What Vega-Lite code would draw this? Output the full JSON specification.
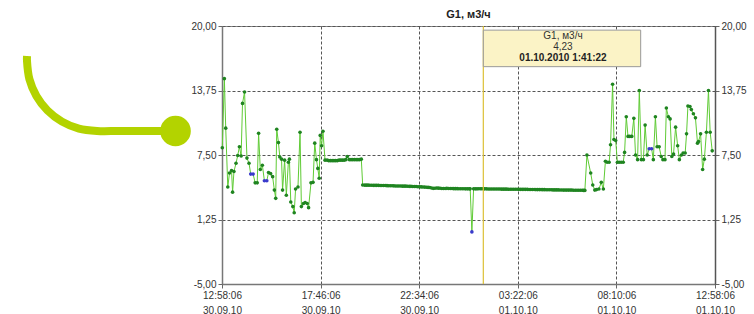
{
  "$schema": "https://vega.github.io/schema/vega-lite/v6.json",
  "background": "white",
  "padding": {"left": 0, "top": 8, "right": 0, "bottom": 0},
  "config": {
    "font": "Liberation Sans",
    "view": {"stroke": "#888"},
    "concat": {"spacing": -2},
    "locale": {"number": {"decimal": ",", "thousands": " ", "grouping": [3], "currency": ["", ""], "minus": "-"}},
    "axis": {"labelFont": "Liberation Sans", "labelFontSize": 10, "labelColor": "#333", "title": null}
  },
  "datasets": {
    "g1": [
      {"t": "2010-09-30T12:59", "v": 8.2},
      {"t": "2010-09-30T13:05", "v": 14.9},
      {"t": "2010-09-30T13:09", "v": 10.1},
      {"t": "2010-09-30T13:15", "v": 4.4},
      {"t": "2010-09-30T13:20", "v": 5.75},
      {"t": "2010-09-30T13:26", "v": 6.0},
      {"t": "2010-09-30T13:29", "v": 3.9},
      {"t": "2010-09-30T13:33", "v": 5.9},
      {"t": "2010-09-30T13:39", "v": 6.7},
      {"t": "2010-09-30T13:44", "v": 7.45},
      {"t": "2010-09-30T13:49", "v": 8.3},
      {"t": "2010-09-30T13:54", "v": 7.4},
      {"t": "2010-09-30T13:58", "v": 12.5},
      {"t": "2010-09-30T14:04", "v": 13.6},
      {"t": "2010-09-30T14:11", "v": 7.2},
      {"t": "2010-09-30T14:17", "v": 6.7},
      {"t": "2010-09-30T14:22", "v": 5.65, "b": 1},
      {"t": "2010-09-30T14:29", "v": 5.65, "b": 1},
      {"t": "2010-09-30T14:35", "v": 4.8},
      {"t": "2010-09-30T14:41", "v": 4.8},
      {"t": "2010-09-30T14:45", "v": 9.6},
      {"t": "2010-09-30T14:50", "v": 6.1},
      {"t": "2010-09-30T14:56", "v": 6.5},
      {"t": "2010-09-30T15:02", "v": 5.0, "b": 1},
      {"t": "2010-09-30T15:09", "v": 5.0, "b": 1},
      {"t": "2010-09-30T15:14", "v": 5.8},
      {"t": "2010-09-30T15:20", "v": 5.7},
      {"t": "2010-09-30T15:26", "v": 5.4},
      {"t": "2010-09-30T15:31", "v": 4.1},
      {"t": "2010-09-30T15:35", "v": 3.3},
      {"t": "2010-09-30T15:38", "v": 10.0},
      {"t": "2010-09-30T15:43", "v": 8.7},
      {"t": "2010-09-30T15:47", "v": 7.3},
      {"t": "2010-09-30T15:52", "v": 7.1},
      {"t": "2010-09-30T15:55", "v": 4.1},
      {"t": "2010-09-30T16:01", "v": 7.0},
      {"t": "2010-09-30T16:06", "v": 3.6},
      {"t": "2010-09-30T16:12", "v": 6.8},
      {"t": "2010-09-30T16:15", "v": 7.1},
      {"t": "2010-09-30T16:19", "v": 2.95},
      {"t": "2010-09-30T16:25", "v": 2.5},
      {"t": "2010-09-30T16:29", "v": 1.9},
      {"t": "2010-09-30T16:33", "v": 4.2},
      {"t": "2010-09-30T16:40", "v": 4.4},
      {"t": "2010-09-30T16:46", "v": 9.7},
      {"t": "2010-09-30T16:50", "v": 2.5},
      {"t": "2010-09-30T16:56", "v": 2.8},
      {"t": "2010-09-30T17:01", "v": 2.9},
      {"t": "2010-09-30T17:07", "v": 2.8},
      {"t": "2010-09-30T17:11", "v": 2.4},
      {"t": "2010-09-30T17:18", "v": 4.8},
      {"t": "2010-09-30T17:24", "v": 4.85},
      {"t": "2010-09-30T17:29", "v": 8.65},
      {"t": "2010-09-30T17:34", "v": 7.05},
      {"t": "2010-09-30T17:38", "v": 6.2},
      {"t": "2010-09-30T17:42", "v": 5.25},
      {"t": "2010-09-30T17:45", "v": 9.4},
      {"t": "2010-09-30T17:49", "v": 8.4},
      {"t": "2010-09-30T17:53", "v": 9.8},
      {"t": "2010-09-30T17:59", "v": 7.0},
      {"t": "2010-09-30T18:05", "v": 7.0},
      {"t": "2010-09-30T18:10", "v": 6.95},
      {"t": "2010-09-30T18:15", "v": 6.95},
      {"t": "2010-09-30T18:20", "v": 6.95},
      {"t": "2010-09-30T18:25", "v": 6.95},
      {"t": "2010-09-30T18:30", "v": 6.95},
      {"t": "2010-09-30T18:35", "v": 6.95},
      {"t": "2010-09-30T18:40", "v": 7.0},
      {"t": "2010-09-30T18:45", "v": 7.0},
      {"t": "2010-09-30T18:50", "v": 7.0},
      {"t": "2010-09-30T18:55", "v": 7.0},
      {"t": "2010-09-30T19:00", "v": 7.05},
      {"t": "2010-09-30T19:04", "v": 7.35},
      {"t": "2010-09-30T19:10", "v": 7.05},
      {"t": "2010-09-30T19:15", "v": 7.05},
      {"t": "2010-09-30T19:20", "v": 7.05},
      {"t": "2010-09-30T19:25", "v": 7.05},
      {"t": "2010-09-30T19:30", "v": 7.05},
      {"t": "2010-09-30T19:35", "v": 7.05},
      {"t": "2010-09-30T19:40", "v": 7.05},
      {"t": "2010-09-30T19:45", "v": 7.1},
      {"t": "2010-09-30T19:49", "v": 4.6},
      {"t": "2010-09-30T19:55", "v": 4.58},
      {"t": "2010-09-30T20:00", "v": 4.58},
      {"t": "2010-09-30T20:05", "v": 4.58},
      {"t": "2010-09-30T20:10", "v": 4.57},
      {"t": "2010-09-30T20:15", "v": 4.57},
      {"t": "2010-09-30T20:20", "v": 4.56},
      {"t": "2010-09-30T20:25", "v": 4.56},
      {"t": "2010-09-30T20:30", "v": 4.56},
      {"t": "2010-09-30T20:35", "v": 4.56},
      {"t": "2010-09-30T20:40", "v": 4.55},
      {"t": "2010-09-30T20:45", "v": 4.55},
      {"t": "2010-09-30T20:50", "v": 4.55},
      {"t": "2010-09-30T20:55", "v": 4.55},
      {"t": "2010-09-30T21:00", "v": 4.53},
      {"t": "2010-09-30T21:05", "v": 4.52},
      {"t": "2010-09-30T21:10", "v": 4.52},
      {"t": "2010-09-30T21:15", "v": 4.52},
      {"t": "2010-09-30T21:20", "v": 4.51},
      {"t": "2010-09-30T21:25", "v": 4.5},
      {"t": "2010-09-30T21:30", "v": 4.5},
      {"t": "2010-09-30T21:35", "v": 4.5},
      {"t": "2010-09-30T21:40", "v": 4.49},
      {"t": "2010-09-30T21:45", "v": 4.48},
      {"t": "2010-09-30T21:50", "v": 4.48},
      {"t": "2010-09-30T21:55", "v": 4.48},
      {"t": "2010-09-30T22:00", "v": 4.47},
      {"t": "2010-09-30T22:05", "v": 4.46},
      {"t": "2010-09-30T22:10", "v": 4.46},
      {"t": "2010-09-30T22:15", "v": 4.45},
      {"t": "2010-09-30T22:20", "v": 4.45},
      {"t": "2010-09-30T22:25", "v": 4.45},
      {"t": "2010-09-30T22:30", "v": 4.43},
      {"t": "2010-09-30T22:35", "v": 4.42},
      {"t": "2010-09-30T22:40", "v": 4.41},
      {"t": "2010-09-30T22:45", "v": 4.4},
      {"t": "2010-09-30T22:50", "v": 4.39},
      {"t": "2010-09-30T22:55", "v": 4.38},
      {"t": "2010-09-30T23:00", "v": 4.36},
      {"t": "2010-09-30T23:05", "v": 4.35},
      {"t": "2010-09-30T23:10", "v": 4.3},
      {"t": "2010-09-30T23:15", "v": 4.27},
      {"t": "2010-09-30T23:20", "v": 4.28},
      {"t": "2010-09-30T23:25", "v": 4.3},
      {"t": "2010-09-30T23:30", "v": 4.29},
      {"t": "2010-09-30T23:35", "v": 4.28},
      {"t": "2010-09-30T23:40", "v": 4.26},
      {"t": "2010-09-30T23:45", "v": 4.25},
      {"t": "2010-09-30T23:50", "v": 4.26},
      {"t": "2010-09-30T23:55", "v": 4.27},
      {"t": "2010-10-01T00:00", "v": 4.26},
      {"t": "2010-10-01T00:05", "v": 4.25},
      {"t": "2010-10-01T00:10", "v": 4.25},
      {"t": "2010-10-01T00:15", "v": 4.24},
      {"t": "2010-10-01T00:20", "v": 4.24},
      {"t": "2010-10-01T00:25", "v": 4.24},
      {"t": "2010-10-01T00:30", "v": 4.23},
      {"t": "2010-10-01T00:35", "v": 4.23},
      {"t": "2010-10-01T00:40", "v": 4.23},
      {"t": "2010-10-01T00:45", "v": 4.23},
      {"t": "2010-10-01T00:50", "v": 4.22},
      {"t": "2010-10-01T00:55", "v": 4.22},
      {"t": "2010-10-01T01:00", "v": 4.22},
      {"t": "2010-10-01T01:03", "v": 4.22},
      {"t": "2010-10-01T01:08", "v": 0.05, "b": 1},
      {"t": "2010-10-01T01:13", "v": 4.22},
      {"t": "2010-10-01T01:18", "v": 4.22},
      {"t": "2010-10-01T01:23", "v": 4.22},
      {"t": "2010-10-01T01:28", "v": 4.23},
      {"t": "2010-10-01T01:33", "v": 4.23},
      {"t": "2010-10-01T01:37", "v": 4.23},
      {"t": "2010-10-01T01:41:22", "v": 4.23},
      {"t": "2010-10-01T01:45", "v": 4.22},
      {"t": "2010-10-01T01:50", "v": 4.22},
      {"t": "2010-10-01T01:55", "v": 4.21},
      {"t": "2010-10-01T02:00", "v": 4.21},
      {"t": "2010-10-01T02:05", "v": 4.2},
      {"t": "2010-10-01T02:10", "v": 4.2},
      {"t": "2010-10-01T02:15", "v": 4.2},
      {"t": "2010-10-01T02:20", "v": 4.2},
      {"t": "2010-10-01T02:25", "v": 4.2},
      {"t": "2010-10-01T02:30", "v": 4.2},
      {"t": "2010-10-01T02:35", "v": 4.19},
      {"t": "2010-10-01T02:40", "v": 4.19},
      {"t": "2010-10-01T02:45", "v": 4.19},
      {"t": "2010-10-01T02:50", "v": 4.19},
      {"t": "2010-10-01T02:55", "v": 4.18},
      {"t": "2010-10-01T03:00", "v": 4.18},
      {"t": "2010-10-01T03:05", "v": 4.18},
      {"t": "2010-10-01T03:10", "v": 4.18},
      {"t": "2010-10-01T03:15", "v": 4.18},
      {"t": "2010-10-01T03:20", "v": 4.18},
      {"t": "2010-10-01T03:25", "v": 4.17},
      {"t": "2010-10-01T03:30", "v": 4.17},
      {"t": "2010-10-01T03:35", "v": 4.17},
      {"t": "2010-10-01T03:40", "v": 4.17},
      {"t": "2010-10-01T03:45", "v": 4.17},
      {"t": "2010-10-01T03:50", "v": 4.17},
      {"t": "2010-10-01T03:55", "v": 4.16},
      {"t": "2010-10-01T04:00", "v": 4.16},
      {"t": "2010-10-01T04:05", "v": 4.16},
      {"t": "2010-10-01T04:10", "v": 4.16},
      {"t": "2010-10-01T04:15", "v": 4.15},
      {"t": "2010-10-01T04:20", "v": 4.15},
      {"t": "2010-10-01T04:25", "v": 4.15},
      {"t": "2010-10-01T04:30", "v": 4.15},
      {"t": "2010-10-01T04:35", "v": 4.14},
      {"t": "2010-10-01T04:40", "v": 4.14},
      {"t": "2010-10-01T04:45", "v": 4.13},
      {"t": "2010-10-01T04:50", "v": 4.13},
      {"t": "2010-10-01T04:55", "v": 4.13},
      {"t": "2010-10-01T05:00", "v": 4.13},
      {"t": "2010-10-01T05:05", "v": 4.12},
      {"t": "2010-10-01T05:10", "v": 4.12},
      {"t": "2010-10-01T05:15", "v": 4.12},
      {"t": "2010-10-01T05:20", "v": 4.12},
      {"t": "2010-10-01T05:25", "v": 4.11},
      {"t": "2010-10-01T05:30", "v": 4.11},
      {"t": "2010-10-01T05:35", "v": 4.1},
      {"t": "2010-10-01T05:40", "v": 4.1},
      {"t": "2010-10-01T05:45", "v": 4.1},
      {"t": "2010-10-01T05:50", "v": 4.1},
      {"t": "2010-10-01T05:55", "v": 4.1},
      {"t": "2010-10-01T06:00", "v": 4.1},
      {"t": "2010-10-01T06:05", "v": 4.09},
      {"t": "2010-10-01T06:10", "v": 4.09},
      {"t": "2010-10-01T06:15", "v": 4.08},
      {"t": "2010-10-01T06:20", "v": 4.08},
      {"t": "2010-10-01T06:25", "v": 4.08},
      {"t": "2010-10-01T06:30", "v": 4.08},
      {"t": "2010-10-01T06:34", "v": 4.07},
      {"t": "2010-10-01T06:38", "v": 4.07},
      {"t": "2010-10-01T06:44", "v": 7.5},
      {"t": "2010-10-01T06:55", "v": 5.75},
      {"t": "2010-10-01T07:01", "v": 4.6},
      {"t": "2010-10-01T07:07", "v": 4.1},
      {"t": "2010-10-01T07:12", "v": 4.15},
      {"t": "2010-10-01T07:19", "v": 4.2},
      {"t": "2010-10-01T07:26", "v": 4.85},
      {"t": "2010-10-01T07:32", "v": 4.2},
      {"t": "2010-10-01T07:38", "v": 6.9},
      {"t": "2010-10-01T07:43", "v": 6.8},
      {"t": "2010-10-01T07:49", "v": 6.8},
      {"t": "2010-10-01T07:53", "v": 8.5},
      {"t": "2010-10-01T07:59", "v": 14.35},
      {"t": "2010-10-01T08:03", "v": 9.0},
      {"t": "2010-10-01T08:08", "v": 8.9},
      {"t": "2010-10-01T08:13", "v": 6.8},
      {"t": "2010-10-01T08:18", "v": 6.8},
      {"t": "2010-10-01T08:24", "v": 6.8},
      {"t": "2010-10-01T08:30", "v": 6.8},
      {"t": "2010-10-01T08:34", "v": 7.75},
      {"t": "2010-10-01T08:39", "v": 11.2},
      {"t": "2010-10-01T08:44", "v": 9.3},
      {"t": "2010-10-01T08:49", "v": 9.3},
      {"t": "2010-10-01T08:55", "v": 9.3},
      {"t": "2010-10-01T09:01", "v": 11.05},
      {"t": "2010-10-01T09:06", "v": 7.5},
      {"t": "2010-10-01T09:12", "v": 7.05},
      {"t": "2010-10-01T09:17", "v": 13.75},
      {"t": "2010-10-01T09:23", "v": 7.05},
      {"t": "2010-10-01T09:29", "v": 7.05},
      {"t": "2010-10-01T09:34", "v": 10.4},
      {"t": "2010-10-01T09:40", "v": 7.5},
      {"t": "2010-10-01T09:46", "v": 8.1, "b": 1},
      {"t": "2010-10-01T09:53", "v": 8.1, "b": 1},
      {"t": "2010-10-01T09:58", "v": 7.05},
      {"t": "2010-10-01T10:04", "v": 11.2},
      {"t": "2010-10-01T10:09", "v": 8.3},
      {"t": "2010-10-01T10:15", "v": 8.3},
      {"t": "2010-10-01T10:21", "v": 7.35},
      {"t": "2010-10-01T10:26", "v": 7.05},
      {"t": "2010-10-01T10:32", "v": 7.05},
      {"t": "2010-10-01T10:36", "v": 12.05},
      {"t": "2010-10-01T10:42", "v": 11.2},
      {"t": "2010-10-01T10:47", "v": 11.0},
      {"t": "2010-10-01T10:52", "v": 7.35},
      {"t": "2010-10-01T10:57", "v": 7.6},
      {"t": "2010-10-01T11:03", "v": 10.2},
      {"t": "2010-10-01T11:09", "v": 8.4},
      {"t": "2010-10-01T11:14", "v": 7.05},
      {"t": "2010-10-01T11:20", "v": 7.5},
      {"t": "2010-10-01T11:25", "v": 7.7},
      {"t": "2010-10-01T11:31", "v": 7.7},
      {"t": "2010-10-01T11:35", "v": 9.55},
      {"t": "2010-10-01T11:39", "v": 12.25},
      {"t": "2010-10-01T11:45", "v": 12.2},
      {"t": "2010-10-01T11:49", "v": 11.9},
      {"t": "2010-10-01T11:55", "v": 11.5},
      {"t": "2010-10-01T12:01", "v": 11.1},
      {"t": "2010-10-01T12:07", "v": 8.65},
      {"t": "2010-10-01T12:10", "v": 8.8},
      {"t": "2010-10-01T12:16", "v": 9.55},
      {"t": "2010-10-01T12:22", "v": 6.1},
      {"t": "2010-10-01T12:27", "v": 7.1},
      {"t": "2010-10-01T12:33", "v": 9.7},
      {"t": "2010-10-01T12:39", "v": 13.75},
      {"t": "2010-10-01T12:44", "v": 9.7},
      {"t": "2010-10-01T12:50", "v": 7.9}
    ],
    "cursor": [
      {"t": "2010-10-01T01:41:22", "v": 4.23, "name": "G1, м3/ч"}
    ],
    "deco": [
      {"u": 27, "w": 30, "k": 1},
      {"u": 27, "w": 35, "k": 2},
      {"u": 29.4, "w": 53.1, "k": 3},
      {"u": 36.4, "w": 70, "k": 4},
      {"u": 47.5, "w": 84.5, "k": 5},
      {"u": 62, "w": 95.6, "k": 6},
      {"u": 78.9, "w": 102.6, "k": 7},
      {"u": 97, "w": 105, "k": 8},
      {"u": 120, "w": 105, "k": 9},
      {"u": 176, "w": 105, "k": 10}
    ],
    "knob": [
      {"u": 175.5, "w": 105}
    ]
  },
  "hconcat": [
    {
      "width": 185,
      "height": 260,
      "view": {"stroke": null},
      "layer": [
        {
          "data": {"name": "deco"},
          "mark": {"type": "line", "color": "#b3d300", "strokeWidth": 8, "strokeCap": "butt", "interpolate": "catmull-rom"},
          "encoding": {
            "x": {"field": "u", "type": "quantitative", "scale": {"domain": [0, 185], "nice": false, "zero": false}, "axis": null},
            "y": {"field": "w", "type": "quantitative", "scale": {"domain": [260, 0], "nice": false, "zero": false}, "axis": null},
            "order": {"field": "k"}
          }
        },
        {
          "data": {"name": "knob"},
          "mark": {"type": "circle", "size": 940, "color": "#b3d300", "opacity": 1},
          "encoding": {
            "x": {"field": "u", "type": "quantitative"},
            "y": {"field": "w", "type": "quantitative"}
          }
        }
      ]
    },
    {
      "width": 493,
      "height": 258,
      "title": {"text": "G1, м3/ч", "fontSize": 11, "fontWeight": "bold", "color": "#222", "baseline": "bottom", "offset": -10},
      "resolve": {"axis": {"y": "independent"}},
      "layer": [
        {
          "data": {"name": "g1"},
          "mark": {"type": "line", "color": "#5fcb35", "strokeWidth": 1},
          "encoding": {
            "x": {
              "field": "t", "type": "temporal",
              "scale": {"domain": [
                {"year": 2010, "month": 9, "date": 30, "hours": 12, "minutes": 58, "seconds": 6},
                {"year": 2010, "month": 10, "date": 1, "hours": 12, "minutes": 58, "seconds": 6}
              ]},
              "axis": {
                "values": [
                  {"year": 2010, "month": 9, "date": 30, "hours": 12, "minutes": 58, "seconds": 6},
                  {"year": 2010, "month": 9, "date": 30, "hours": 17, "minutes": 46, "seconds": 6},
                  {"year": 2010, "month": 9, "date": 30, "hours": 22, "minutes": 34, "seconds": 6},
                  {"year": 2010, "month": 10, "date": 1, "hours": 3, "minutes": 22, "seconds": 6},
                  {"year": 2010, "month": 10, "date": 1, "hours": 8, "minutes": 10, "seconds": 6},
                  {"year": 2010, "month": 10, "date": 1, "hours": 12, "minutes": 58, "seconds": 6}
                ],
                "labelExpr": "[timeFormat(datum.value, '%H:%M:%S'), timeFormat(datum.value, '%d.%m.%y')]",
                "labelLineHeight": 15,
                "labelFlush": false,
                "labelOverlap": false,
                "labelPadding": 2,
                "tickSize": 4,
                "tickColor": "#666",
                "domainColor": "#777",
                "domainWidth": 1.5,
                "grid": true,
                "gridDash": [3, 2],
                "gridColor": "#555",
                "gridWidth": 1
              }
            },
            "y": {
              "field": "v", "type": "quantitative",
              "scale": {"domain": [-5, 20], "nice": false, "zero": false},
              "axis": {
                "values": [-5, 1.25, 7.5, 13.75, 20],
                "format": ".2f",
                "tickSize": 4,
                "labelPadding": 2,
                "tickColor": "#666",
                "domainColor": "#777",
                "domainWidth": 1.5,
                "grid": true,
                "gridDash": [3, 2],
                "gridColor": "#555",
                "gridWidth": 1
              }
            }
          }
        },
        {
          "data": {"name": "g1"},
          "mark": {"type": "point", "filled": true, "size": 13, "opacity": 1},
          "encoding": {
            "x": {"field": "t", "type": "temporal"},
            "y": {
              "field": "v", "type": "quantitative",
              "axis": {
                "orient": "right",
                "values": [-5, 1.25, 7.5, 13.75, 20],
                "format": ".2f",
                "tickSize": 4,
                "labelPadding": 2,
                "tickColor": "#666",
                "domainColor": "#555",
                "domainWidth": 1.5,
                "grid": false
              }
            },
            "color": {"condition": {"test": "datum.b === 1", "value": "#3a3acc"}, "value": "#1f8420"}
          }
        },
        {
          "data": {"name": "cursor"},
          "mark": {"type": "rule", "color": "#dcc035", "strokeWidth": 1.2},
          "encoding": {
            "x": {"field": "t", "type": "temporal"}
          }
        },
        {
          "data": {"name": "cursor"},
          "mark": {"type": "rect", "fill": "#fbf3c6", "stroke": "#999", "strokeWidth": 1},
          "encoding": {
            "x": {"field": "t", "type": "temporal"},
            "x2": {"datum": {"year": 2010, "month": 10, "date": 1, "hours": 9, "minutes": 21}},
            "y": {"datum": 19.6, "type": "quantitative", "axis": null},
            "y2": {"datum": 16.06}
          }
        },
        {
          "data": {"name": "cursor"},
          "mark": {"type": "text", "fontSize": 10, "color": "#333", "baseline": "middle"},
          "encoding": {
            "x": {"datum": {"year": 2010, "month": 10, "date": 1, "hours": 5, "minutes": 34}, "type": "temporal"},
            "y": {"datum": 19.03, "type": "quantitative", "axis": null},
            "text": {"field": "name"}
          }
        },
        {
          "data": {"name": "cursor"},
          "mark": {"type": "text", "fontSize": 10, "color": "#333", "baseline": "middle"},
          "encoding": {
            "x": {"datum": {"year": 2010, "month": 10, "date": 1, "hours": 5, "minutes": 34}, "type": "temporal"},
            "y": {"datum": 17.97, "type": "quantitative", "axis": null},
            "text": {"field": "v", "type": "quantitative", "format": ".2f"}
          }
        },
        {
          "data": {"name": "cursor"},
          "mark": {"type": "text", "fontSize": 10, "fontWeight": "bold", "color": "#222", "baseline": "middle"},
          "encoding": {
            "x": {"datum": {"year": 2010, "month": 10, "date": 1, "hours": 5, "minutes": 34}, "type": "temporal"},
            "y": {"datum": 16.9, "type": "quantitative", "axis": null},
            "text": {"field": "t", "type": "temporal", "format": "%d.%m.%Y %-H:%M:%S"}
          }
        }
      ]
    }
  ]
}
